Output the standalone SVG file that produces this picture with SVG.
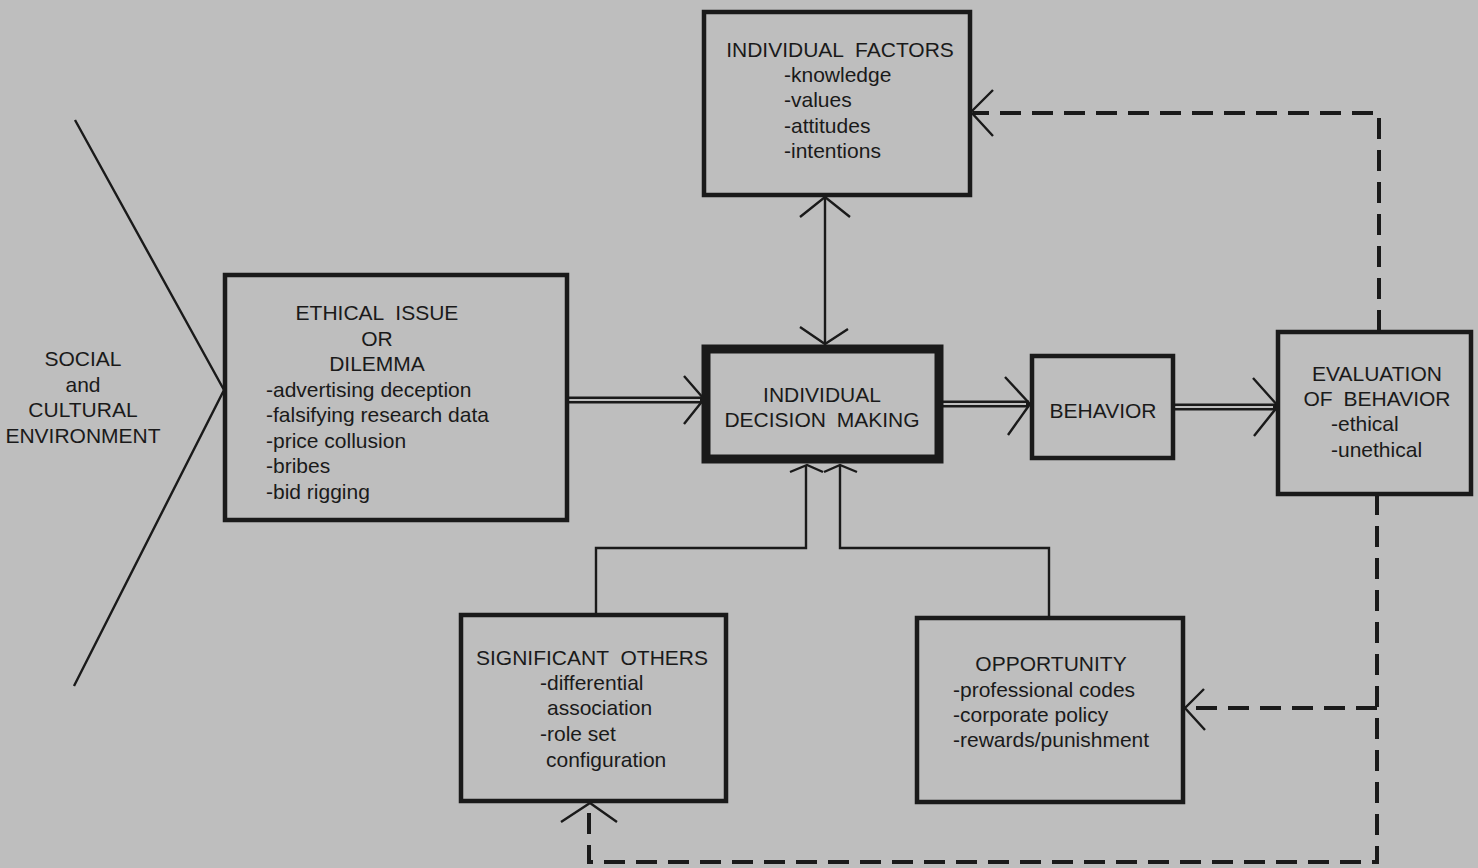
<svg xmlns="http://www.w3.org/2000/svg" width="1478" height="868" viewBox="0 0 1478 868">
<defs>
<style>
text{font-family:"Liberation Sans",Arial,sans-serif;font-size:21px;fill:#1a1a1a}
.c{text-anchor:middle}
.box{fill:none;stroke:#1a1a1a;stroke-width:4.5}
.thick{fill:none;stroke:#1a1a1a;stroke-width:9}
.thin{fill:none;stroke:#1a1a1a;stroke-width:2.4}
.dash{fill:none;stroke:#1a1a1a;stroke-width:4;stroke-dasharray:21 11}
.dblo{fill:none;stroke:#1a1a1a;stroke-width:7}
.dbli{fill:none;stroke:#bebebe;stroke-width:2}
</style>
</defs>
<rect width="1478" height="868" fill="#bebebe"/>

<g id="social-environment">
<path d="M75,120 L224,390 L74,686" class="thin"/>
<text class="c" x="83" y="366">SOCIAL</text>
<text class="c" x="83" y="392">and</text>
<text class="c" x="83" y="417">CULTURAL</text>
<text class="c" x="83" y="443">ENVIRONMENT</text>
</g>

<g id="connectors">
<path d="M567,400 L703,400" class="dblo"/>
<path d="M567,400 L700,400" class="dbli"/>
<path d="M684,376 L704,399 L684,424" class="thin"/>
<path d="M940,404 L1029,404" class="dblo"/>
<path d="M940,404 L1026,404" class="dbli"/>
<path d="M1005,377 L1030,404 L1008,435" class="thin"/>
<path d="M1174,407 L1276,407" class="dblo"/>
<path d="M1174,407 L1273,407" class="dbli"/>
<path d="M1253,378 L1278,406 L1254,436" class="thin"/>
<path d="M825,198 L825,343" class="thin"/>
<path d="M800,217 L825,197 L850,217" class="thin"/>
<path d="M800,327 L825,344 L848,329" class="thin"/>
<path d="M596,615 L596,548 L806,548 L806,466" class="thin"/>
<path d="M790,472 L807,465 L823,472" class="thin"/>
<path d="M1049,618 L1049,548 L840,548 L840,466" class="thin"/>
<path d="M824,472 L840,465 L857,472" class="thin"/>
<path d="M1379,331 L1379,113 L973,113" class="dash"/>
<path d="M993,90 L971,112 L993,136" class="thin"/>
<path d="M1377,494 L1377,862 L589,862 L589,804" class="dash"/>
<path d="M1377,708 L1187,708" class="dash"/>
<path d="M1204,689 L1185,708 L1205,730" class="thin"/>
<path d="M561,822 L590,803 L617,822" class="thin"/>
</g>

<g id="ethical-issue">
<rect x="225" y="275" width="342" height="245" class="box"/>
<text class="c" x="377" y="320" word-spacing="6">ETHICAL ISSUE</text>
<text class="c" x="377" y="346">OR</text>
<text class="c" x="377" y="371">DILEMMA</text>
<text x="266" y="397">-advertising deception</text>
<text x="266" y="422">-falsifying research data</text>
<text x="266" y="448">-price collusion</text>
<text x="266" y="473">-bribes</text>
<text x="266" y="499">-bid rigging</text>
</g>

<g id="individual-decision-making">
<rect x="706" y="349" width="233" height="110" class="thick"/>
<text class="c" x="822" y="402">INDIVIDUAL</text>
<text class="c" x="822" y="427" word-spacing="5">DECISION MAKING</text>
</g>

<g id="individual-factors">
<rect x="704" y="12" width="266" height="183" class="box"/>
<text class="c" x="840" y="57" word-spacing="6">INDIVIDUAL FACTORS</text>
<text x="784" y="82">-knowledge</text>
<text x="784" y="107">-values</text>
<text x="784" y="133">-attitudes</text>
<text x="784" y="158">-intentions</text>
</g>

<g id="behavior">
<rect x="1032" y="356" width="141" height="102" class="box"/>
<text class="c" x="1103" y="418">BEHAVIOR</text>
</g>

<g id="evaluation-of-behavior">
<rect x="1278" y="332" width="193" height="162" class="box"/>
<text class="c" x="1377" y="381">EVALUATION</text>
<text class="c" x="1377" y="406" word-spacing="5">OF BEHAVIOR</text>
<text x="1331" y="431">-ethical</text>
<text x="1331" y="457">-unethical</text>
</g>

<g id="significant-others">
<rect x="461" y="615" width="265" height="186" class="box"/>
<text class="c" x="592" y="665" word-spacing="6">SIGNIFICANT OTHERS</text>
<text x="540" y="690">-differential</text>
<text x="547" y="715">association</text>
<text x="540" y="741">-role set</text>
<text x="546" y="767">configuration</text>
</g>

<g id="opportunity">
<rect x="917" y="618" width="266" height="184" class="box"/>
<text class="c" x="1051" y="671">OPPORTUNITY</text>
<text x="953" y="697">-professional codes</text>
<text x="953" y="722">-corporate policy</text>
<text x="953" y="747">-rewards/punishment</text>
</g>
</svg>
